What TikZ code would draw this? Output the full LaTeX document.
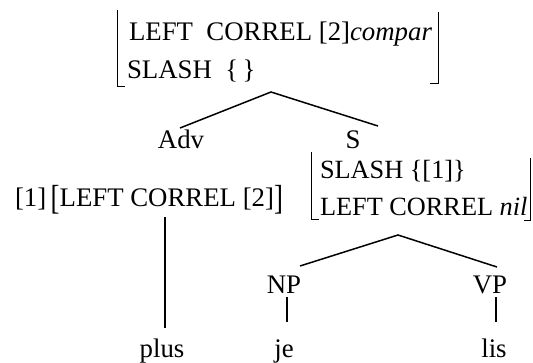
\documentclass[tikz,border=0pt]{standalone}
\usepackage{fontspec}
\setmainfont{Liberation Serif}
\usepackage{graphicx}
\begin{document}
\begin{tikzpicture}[x=1pt,y=-1pt,
  txt/.style={inner sep=0pt,outer sep=0pt,font=\fontsize{26.8}{30}\selectfont},
  lbl/.style={txt,anchor=base},
  avm/.style={txt,anchor=base west},
  edge/.style={line width=1.5pt},
  brk/.style={line width=0.9pt}]
\useasboundingbox (0,0) rectangle (533,362);
% top AVM
\node[avm] (t1) at (129,40) {LEFT\ \ CORREL [2]\textit{compar}};
\node[avm] (t2) at (127,78) {SLASH\ \ \{\,\}};
\draw[brk] (117,10) -- (117,86) -- (125,86);
\draw[brk] (438,12) -- (438,83) -- (430,83);
\coordinate (topapex) at (271,92);
\coordinate (advend) at (180,128);
\coordinate (send) at (378,126);
\draw[edge] (advend) -- (topapex) -- (send);
% Adv and S
\node[lbl] (adv) at (181,148) {Adv};
\node[lbl] (s) at (353,148) {S};
\node[avm] (advfs) at (15,206) {[1]\,\raisebox{-0.25ex}{\scalebox{1}[1.3]{[}}LEFT CORREL [2]\raisebox{-0.25ex}{\scalebox{1}[1.3]{]}}};
% S AVM
\node[avm,font=\fontsize{26.3}{30}\selectfont] (s1) at (320,178) {SLASH \{[1]\}};
\node[avm,font=\fontsize{26.3}{30}\selectfont] (s2) at (320,215) {LEFT CORREL \textit{nil}};
\draw[brk] (311,152) -- (311,219) -- (319,219);
\draw[brk] (530,158) -- (530,220) -- (524,220);
\coordinate (sapex) at (398,235);
\coordinate (npend) at (300,266);
\coordinate (vpend) at (497,267);
\draw[edge] (npend) -- (sapex) -- (vpend);
% lower
\node[lbl] (np) at (284,293) {NP};
\node[lbl] (vp) at (490,293) {VP};
\node[lbl] (plus) at (162,357) {plus};
\node[lbl] (je) at (284,357) {je};
\node[lbl] (lis) at (494,357) {lis};
\coordinate (advtop) at (165,217);
\coordinate (plustop) at (165,328);
\draw[edge] (advtop) -- (plustop);
\coordinate (npa) at (287,297);
\coordinate (npb) at (287,322);
\draw[edge] (npa) -- (npb);
\coordinate (vpa) at (496,297);
\coordinate (vpb) at (496,322);
\draw[edge] (vpa) -- (vpb);
\end{tikzpicture}
\end{document}
